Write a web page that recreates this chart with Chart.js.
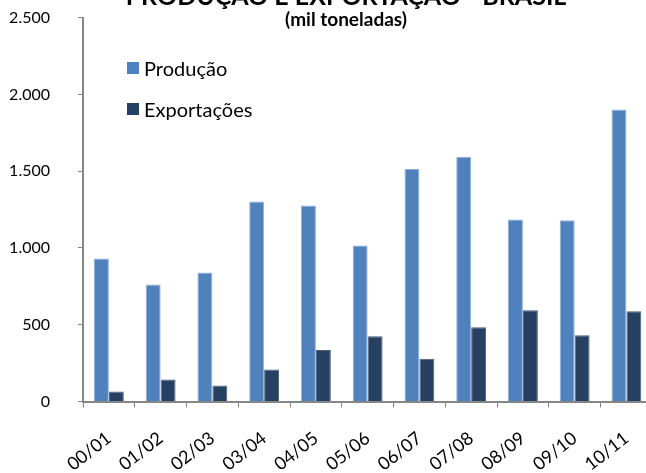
<!DOCTYPE html>
<html>
<head>
<meta charset="utf-8">
<script src="https://cdn.jsdelivr.net/npm/chart.js@4.4.0/dist/chart.umd.min.js"></script>
<style>
  html, body { margin: 0; padding: 0; background: #fff; overflow: hidden; width: 646px; height: 473px; }
  #wrap { position: absolute; left: 0; top: -20px; width: 660px; height: 493px; }
  #title { position: absolute; left: 0; width: 692px; top: -20px; text-align: center; font: bold 25px Lato, "Liberation Sans", sans-serif; color: #000; white-space: nowrap; }
  #subtitle { position: absolute; left: 0; width: 692px; top: 7px; text-align: center; font: bold 19px Lato, "Liberation Sans", sans-serif; color: #000; white-space: nowrap; }
  #legend { position: absolute; left: 127px; top: 55.5px; font: 20px Lato, "Liberation Sans", sans-serif; color: #000; }
  .item { position: relative; height: 24px; line-height: 24px; margin-bottom: 17.5px; padding-left: 17px; white-space: nowrap; }
  .sw { position: absolute; left: 0; top: 6px; width: 12px; height: 12px; }
</style>
</head>
<body>
<div id="wrap"><canvas id="c" width="660" height="493"></canvas></div>
<div id="title">PRODUÇÃO E EXPORTAÇÃO - BRASIL</div>
<div id="subtitle">(mil toneladas)</div>
<div id="legend"></div>
<script>
const categories = ["00/01","01/02","02/03","03/04","04/05","05/06","06/07","07/08","08/09","09/10","10/11"];
const producao = [932, 762, 840, 1303, 1276, 1016, 1514, 1592, 1186, 1181, 1902];
const exportacoes = [65, 144, 105, 208, 336, 425, 279, 484, 594, 431, 588];
const seriesNames = ["Produção", "Exportações"];
const seriesColors = ["#4F81BD", "#254061"];
const seriesBorders = ["#8EAEDB", "#4A5F7A"];
const yMin = 0, yMax = 2500, yStep = 500;

function fmt(v) { return String(v).replace(/\B(?=(\d{3})+(?!\d))/g, "."); }

const datasets = [producao, exportacoes].map((d, i) => ({
  label: seriesNames[i],
  data: d,
  backgroundColor: seriesColors[i],
  borderColor: seriesBorders[i],
  borderWidth: 1,
  barPercentage: 1.0,
  categoryPercentage: 0.577
}));

const legend = document.getElementById("legend");
datasets.forEach(ds => {
  const it = document.createElement("div");
  it.className = "item";
  const sw = document.createElement("span");
  sw.className = "sw";
  sw.style.background = ds.backgroundColor;
  it.appendChild(sw);
  it.appendChild(document.createTextNode(ds.label));
  legend.appendChild(it);
});

const axisColor = "#868686";
new Chart(document.getElementById("c"), {
  type: "bar",
  data: { labels: categories, datasets },
  options: {
    responsive: false,
    animation: false,
    layout: { padding: { left: 0, right: 6, top: 17, bottom: 0 } },
    plugins: { legend: { display: false }, title: { display: false }, tooltip: { enabled: false } },
    scales: {
      x: {
        grid: { display: true, drawOnChartArea: false, drawTicks: true, tickLength: 6, color: axisColor, offset: true },
        border: { display: true, color: axisColor, width: 2 },
        ticks: { color: "#000", font: { family: "Lato, 'Liberation Sans', sans-serif", size: 18 }, minRotation: 38, maxRotation: 38, padding: 20, autoSkip: false },
        afterFit: s => { s.height = 71.5; }
      },
      y: {
        min: yMin, max: yMax,
        grid: { display: true, drawOnChartArea: false, drawTicks: true, tickLength: 5, color: axisColor },
        border: { display: true, color: axisColor, width: 2 },
        ticks: { stepSize: yStep, color: "#000", font: { family: "Lato, 'Liberation Sans', sans-serif", size: 16 }, padding: 28, callback: v => fmt(v) },
        afterFit: s => { s.width = 83; }
      }
    }
  }
});
</script>
</body>
</html>
